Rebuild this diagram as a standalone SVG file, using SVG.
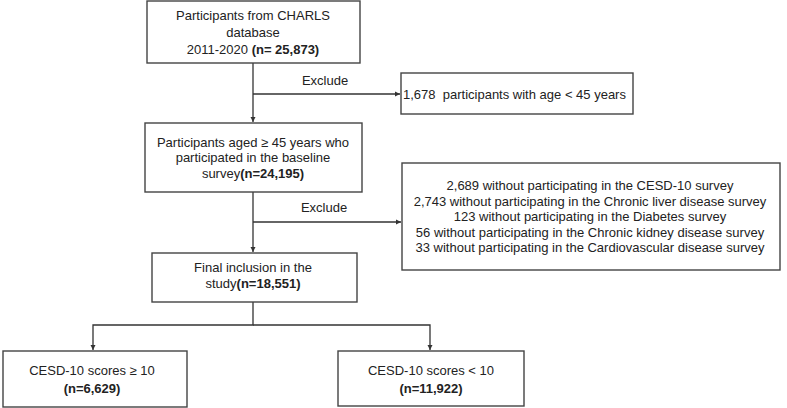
<svg xmlns="http://www.w3.org/2000/svg" width="787" height="408" viewBox="0 0 787 408">
<defs>
<marker id="arr" markerWidth="6" markerHeight="6" refX="5" refY="3" orient="auto" markerUnits="userSpaceOnUse">
<path d="M0,0.5 L5,3 L0,5.5 Z" fill="#333"/>
</marker>
<style>
.box{fill:#fff;stroke:#444;stroke-width:1.4}
.t{font-family:"Liberation Sans",Arial,sans-serif;font-size:13px;fill:#222;text-anchor:middle}
.l{text-anchor:start}
.b{font-weight:bold}
.c{fill:none;stroke:#333;stroke-width:1.3}
</style>
</defs>
<rect width="787" height="408" fill="#fff"/>
<g id="connectors">
<path class="c" d="M253,63 V122" marker-end="url(#arr)"/>
<path class="c" d="M253,94 H400" marker-end="url(#arr)"/>
<path class="c" d="M253,192 V252" marker-end="url(#arr)"/>
<path class="c" d="M253,222 H401" marker-end="url(#arr)"/>
<path class="c" d="M253,302 V325 H93 V350" marker-end="url(#arr)"/>
<path class="c" d="M253,325 H430 V350" marker-end="url(#arr)"/>
<text class="t" x="325" y="85">Exclude</text>
<text class="t" x="324" y="212">Exclude</text>
</g>
<g id="n1">
<rect class="box" x="147" y="1" width="213" height="62"/>
<text class="t" x="253" y="20">Participants from CHARLS</text>
<text class="t" x="253" y="37">database</text>
<text class="t" x="253" y="54">2011-2020 <tspan class="b">(n= 25,873)</tspan></text>
</g>
<g id="n2">
<rect class="box" x="401" y="73" width="232" height="41"/>
<text class="t l" x="403" y="99" xml:space="preserve">1,678  participants with age &lt; 45 years</text>
</g>
<g id="n3">
<rect class="box" x="145" y="123" width="217" height="69"/>
<text class="t" x="253" y="147">Participants aged ≥ 45 years who</text>
<text class="t" x="253" y="162">participated in the baseline</text>
<text class="t" x="253" y="178">survey<tspan class="b">(n=24,195)</tspan></text>
</g>
<g id="n4">
<rect class="box" x="402" y="163" width="378" height="107"/>
<text class="t" x="590" y="190">2,689 without participating in the CESD-10 survey</text>
<text class="t" x="590" y="205.5">2,743 without participating in the Chronic liver disease survey</text>
<text class="t" x="590" y="221">123 without participating in the Diabetes survey</text>
<text class="t" x="590" y="236.5">56 without participating in the Chronic kidney disease survey</text>
<text class="t" x="590" y="252">33 without participating in the Cardiovascular disease survey</text>
</g>
<g id="n5">
<rect class="box" x="152" y="253" width="205" height="49"/>
<text class="t" x="253" y="272">Final inclusion in the</text>
<text class="t" x="253" y="288">study<tspan class="b">(n=18,551)</tspan></text>
</g>
<g id="n6">
<rect class="box" x="3" y="351" width="184" height="56"/>
<text class="t" x="92" y="375">CESD-10 scores ≥ 10</text>
<text class="t b" x="92" y="393">(n=6,629)</text>
</g>
<g id="n7">
<rect class="box" x="338" y="351" width="186" height="55"/>
<text class="t" x="431" y="375">CESD-10 scores &lt; 10</text>
<text class="t b" x="431" y="393">(n=11,922)</text>
</g>
</svg>
